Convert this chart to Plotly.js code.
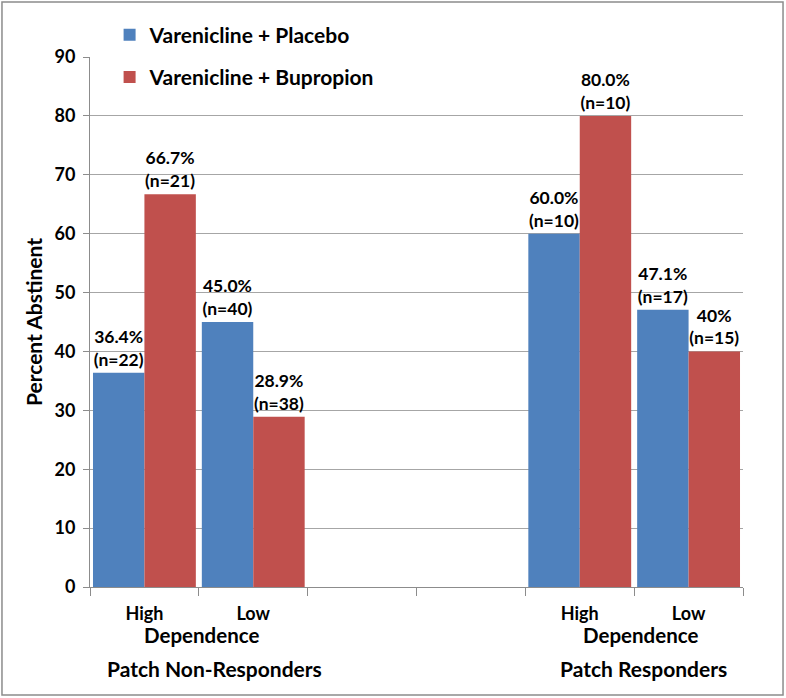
<!DOCTYPE html>
<html><head><meta charset="utf-8">
<script src="https://cdn.plot.ly/plotly-3.0.1.min.js"></script>
<style>body{margin:0;padding:0;background:#fff}#chart{width:786px;height:698px}</style>
</head><body><div id="chart"></div>
<script>
const categories = ["High", "Low", " ", "  ", "High ", "Low "];
const tickLabels = ["High", "Low", "", "", "High", "Low"];
const placeboValues = [36.4, 45.0, null, null, 60.0, 47.1];
const placeboLabels = ["36.4%<br>(n=22)", "45.0%<br>(n=40)", "", "", "60.0%<br>(n=10)", "47.1%<br>(n=17)"];
const bupropionValues = [66.7, 28.9, null, null, 80.0, 40.0];
const bupropionLabels = ["66.7%<br>(n=21)", "28.9%<br>(n=38)", "", "", "80.0%<br>(n=10)", "40%<br>(n=15)"];
const seriesNames = ["Varenicline + Placebo", "Varenicline + Bupropion"];

const FONT = "Lato, sans-serif";
const labelFont = {family: FONT, size: 17.5, color: "#000", weight: "bold"};

const traces = [
  {type: "bar", name: seriesNames[0], x: categories, y: placeboValues, text: placeboLabels,
   textposition: "outside", cliponaxis: false, textfont: labelFont, marker: {color: "#4F81BD"},
   legendgroup: "a", hoverinfo: "none"},
  {type: "bar", name: seriesNames[1], x: categories, y: bupropionValues, text: bupropionLabels,
   textposition: "outside", cliponaxis: false, textfont: labelFont, marker: {color: "#C0504D"},
   legendgroup: "b", hoverinfo: "none"}
];

const layout = {
  width: 786, height: 698,
  margin: {l: 90, r: 43, t: 57, b: 111},
  paper_bgcolor: "#fff", plot_bgcolor: "#fff",
  font: {family: FONT, color: "#000"},
  barmode: "group", bargap: 0.055, bargroupgap: 0,
  showlegend: true,
  legend: {x: 0.03, y: 1.08, xanchor: "left", yanchor: "top", bgcolor: "rgba(0,0,0,0)",
           font: {family: FONT, size: 21, weight: "bold"}, tracegroupgap: 12, traceorder: "grouped"},
  xaxis: {type: "category", categoryorder: "array", categoryarray: categories,
          tickvals: categories, ticktext: tickLabels, tickson: "boundaries",
          ticks: "outside", ticklen: 8, tickcolor: "#8c8c8c", ticklabelstandoff: 10,
          showline: true, linecolor: "#8c8c8c", linewidth: 1, showgrid: false,
          tickfont: {family: FONT, size: 18, weight: "bold"}, range: [-0.5, 5.5]},
  yaxis: {range: [0, 90], dtick: 10, tick0: 0, ticks: "outside", ticklen: 6, tickcolor: "#8c8c8c",
          ticklabelstandoff: 4,
          showline: true, linecolor: "#8c8c8c", showgrid: true, gridcolor: "#a6a6a6", zeroline: false,
          tickfont: {family: FONT, size: 18, weight: "bold"},
          title: {text: "Percent Abstinent", font: {family: FONT, size: 21, weight: "bold"}, standoff: 6}},
  annotations: [
    {x: 0.52, y: -0.09, xref: "x", yref: "paper", text: "Dependence", showarrow: false, yanchor: "middle",
     font: {family: FONT, size: 20.5, weight: "bold"}},
    {x: 0.64, y: -0.153, xref: "x", yref: "paper", text: "Patch Non-Responders", showarrow: false, yanchor: "middle",
     font: {family: FONT, size: 21, weight: "bold"}},
    {x: 4.56, y: -0.09, xref: "x", yref: "paper", text: "Dependence", showarrow: false, yanchor: "middle",
     font: {family: FONT, size: 20.5, weight: "bold"}},
    {x: 4.59, y: -0.153, xref: "x", yref: "paper", text: "Patch Responders", showarrow: false, yanchor: "middle",
     font: {family: FONT, size: 21, weight: "bold"}}
  ],
  shapes: [
    {type: "rect", xref: "paper", yref: "paper", x0: -0.1348, x1: 1.0613, y0: -0.2038, y1: 1.1038,
     line: {color: "#8c8c8c", width: 1.5}, fillcolor: "rgba(0,0,0,0)", layer: "below"}
  ]
};

Plotly.newPlot("chart", traces, layout, {displayModeBar: false, staticPlot: true});
</script>
</body></html>
